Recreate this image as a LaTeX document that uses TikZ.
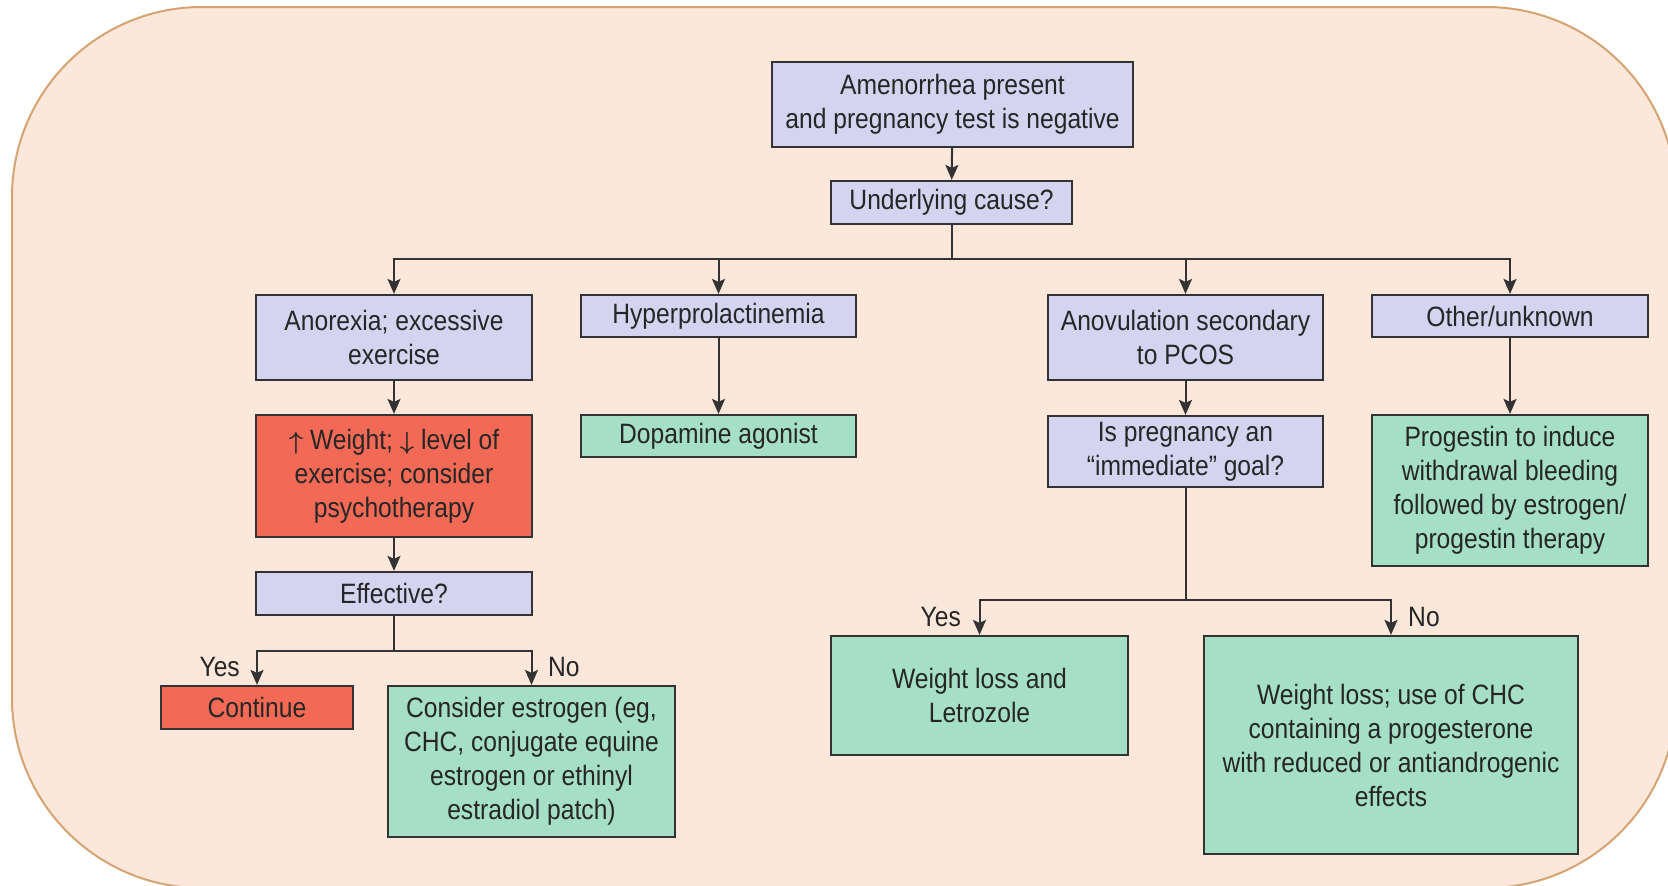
\documentclass[tikz,border=0pt]{standalone}
\usepackage{fontspec}
\usepackage{amsmath}
\setmainfont[FakeStretch=0.88]{Liberation Sans}
\usetikzlibrary{arrows.meta}
\definecolor{bgfill}{HTML}{FCE8DB}
\definecolor{bgline}{HTML}{D6A373}
\definecolor{lav}{HTML}{D4D4F0}
\definecolor{grn}{HTML}{A5DFC5}
\definecolor{redb}{HTML}{F26A55}
\definecolor{ink}{HTML}{333333}
\definecolor{txt}{HTML}{262626}
\tikzset{
  box/.style={draw=ink, line width=2.2pt, inner sep=0pt, align=center, text=txt,
    font=\fontsize{28}{34}\selectfont},
  conn/.style={draw=ink, line width=2pt},
  arr/.style={conn, -{Stealth[length=15pt,width=13pt,inset=3pt]}},
  lbl/.style={text=txt, inner sep=0pt, font=\fontsize{28}{34}\selectfont}
}
\begin{document}
\begin{tikzpicture}[x=1pt,y=-1pt]
\useasboundingbox (0,0) rectangle (1668,886);
\begin{scope}
\clip (0,0) rectangle (1668,886);
\draw[fill=bgfill, draw=bgline, line width=2pt, rounded corners=190pt] (12,7) rectangle (1676,888);
\end{scope}
% top
\node[box, fill=lav, minimum width=361pt, minimum height=85pt] (top) at (952.5,104.5) {Amenorrhea present\\and pregnancy test is negative};
\node[box, fill=lav, minimum width=241pt, minimum height=43pt] (under) at (951.5,202.5) {Underlying cause?};
% row 1
\node[box, fill=lav, minimum width=276pt, minimum height=85pt] (anor) at (394,337.5) {Anorexia; excessive\\exercise};
\node[box, fill=lav, minimum width=275pt, minimum height=42pt] (hyper) at (718.5,316) {Hyperprolactinemia};
\node[box, fill=lav, minimum width=275pt, minimum height=85pt] (anov) at (1185.5,337.5) {Anovulation secondary\\to PCOS};
\node[box, fill=lav, minimum width=276pt, minimum height=42pt] (other) at (1510,316) {Other/unknown};
% row 2
\node[box, fill=redb, minimum width=276pt, minimum height=122pt] (red) at (394,476) {$\boldsymbol{\uparrow}$ Weight; $\boldsymbol{\downarrow}$ level of\\exercise; consider\\psychotherapy};
\node[box, fill=grn, minimum width=275pt, minimum height=42pt] (dop) at (718.5,436) {Dopamine agonist};
\node[box, fill=lav, minimum width=275pt, minimum height=71pt] (preg) at (1185.5,451.5) {Is pregnancy an\\“immediate” goal?};
\node[box, fill=grn, minimum width=276pt, minimum height=151pt] (prog) at (1510,490.5) {Progestin to induce\\withdrawal bleeding\\followed by estrogen/\\progestin therapy};
% row 3
\node[box, fill=lav, minimum width=276pt, minimum height=43pt] (eff) at (394,593.5) {Effective?};
\node[box, fill=redb, minimum width=192pt, minimum height=43pt] (cont) at (257,707.5) {Continue};
\node[box, fill=grn, minimum width=287pt, minimum height=151pt] (cons) at (531.5,761.5) {Consider estrogen (eg,\\CHC, conjugate equine\\estrogen or ethinyl\\estradiol patch)};
\node[box, fill=grn, minimum width=297pt, minimum height=119pt] (wl) at (979.5,695.5) {Weight loss and\\Letrozole};
\node[box, fill=grn, minimum width=374pt, minimum height=218pt] (chc) at (1391,745) {Weight loss; use of CHC\\containing a progesterone\\with reduced or antiandrogenic\\effects};
% connectors
\draw[arr] (top) -- (under);
\coordinate (b) at (951.5,259);
\draw[conn] (under.south) -- (b);
\draw[arr] (b) -| (anor.north);
\draw[arr] (b) -| (hyper.north);
\draw[arr] (b) -| (anov.north);
\draw[arr] (b) -| (other.north);
\draw[arr] (anor) -- (red);
\draw[arr] (red) -- (eff);
\draw[arr] (hyper) -- (dop);
\draw[arr] (anov) -- (preg);
\draw[arr] (other) -- (prog);
\coordinate (e) at (394,651);
\draw[conn] (eff.south) -- (e);
\draw[arr] (e) -| (cont.north);
\draw[arr] (e) -| (cons.north);
\coordinate (p) at (1185.5,600);
\draw[conn] (preg.south) -- (p);
\draw[arr] (p) -| (wl.north);
\draw[arr] (p) -| (chc.north);
% labels
\node[lbl, anchor=base east] (y1) at (240,676) {Yes};
\node[lbl, anchor=base west] (n1) at (548,676) {No};
\node[lbl, anchor=base east] (y2) at (961,626) {Yes};
\node[lbl, anchor=base west] (n2) at (1408,626) {No};
\end{tikzpicture}
\end{document}
